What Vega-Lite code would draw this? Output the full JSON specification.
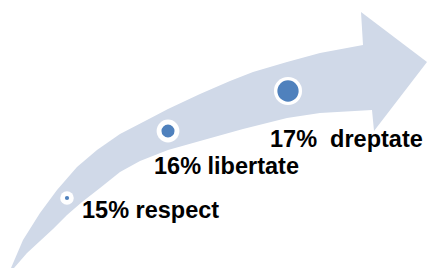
{
  "$schema": "https://vega.github.io/schema/vega-lite/v6.json",
  "width": 427,
  "height": 269,
  "autosize": {"type": "fit", "contains": "padding"},
  "padding": 0,
  "background": "white",
  "config": {"view": {"stroke": null}},
  "resolve": {"scale": {"size": "independent"}},
  "datasets": {
    "arrow": [
      {"i": 1, "x": 11, "y": 268},
      {"i": 2, "x": 23, "y": 240},
      {"i": 3, "x": 40, "y": 213},
      {"i": 4, "x": 57, "y": 190},
      {"i": 5, "x": 77, "y": 167},
      {"i": 6, "x": 97, "y": 150},
      {"i": 7, "x": 120, "y": 134},
      {"i": 8, "x": 147, "y": 120},
      {"i": 9, "x": 168, "y": 109},
      {"i": 10, "x": 200, "y": 94},
      {"i": 11, "x": 230, "y": 81},
      {"i": 12, "x": 253, "y": 72},
      {"i": 13, "x": 287, "y": 62},
      {"i": 14, "x": 320, "y": 53},
      {"i": 15, "x": 363, "y": 45},
      {"i": 16, "x": 361, "y": 12},
      {"i": 17, "x": 427, "y": 62},
      {"i": 18, "x": 374, "y": 131},
      {"i": 19, "x": 372, "y": 110},
      {"i": 20, "x": 320, "y": 113},
      {"i": 21, "x": 287, "y": 118},
      {"i": 22, "x": 243, "y": 129},
      {"i": 23, "x": 200, "y": 141},
      {"i": 24, "x": 168, "y": 150},
      {"i": 25, "x": 140, "y": 161},
      {"i": 26, "x": 120, "y": 172},
      {"i": 27, "x": 100, "y": 188},
      {"i": 28, "x": 82, "y": 202},
      {"i": 29, "x": 67, "y": 215},
      {"i": 30, "x": 53, "y": 229},
      {"i": 31, "x": 40, "y": 241},
      {"i": 32, "x": 27, "y": 253},
      {"i": 33, "x": 14, "y": 268}
    ],
    "steps": [
      {"pct": 15, "x": 67, "y": 198, "label": "15% respect", "lx": 82, "ly": 218},
      {"pct": 16, "x": 168, "y": 131, "label": "16% libertate", "lx": 154, "ly": 174},
      {"pct": 17, "x": 288, "y": 91, "label": "17% \u00a0dreptate", "lx": 270, "ly": 147}
    ]
  },
  "layer": [
    {
      "data": {"name": "arrow"},
      "mark": {"type": "line", "fill": "#d0d9e8", "stroke": null, "strokeWidth": 0},
      "encoding": {
        "x": {"field": "x", "type": "quantitative", "scale": {"domain": [0, 427], "nice": false, "zero": false}, "axis": null},
        "y": {"field": "y", "type": "quantitative", "scale": {"domain": [269, 0], "nice": false, "zero": false}, "axis": null},
        "order": {"field": "i", "type": "quantitative"}
      }
    },
    {
      "data": {"name": "steps"},
      "mark": {"type": "point", "shape": "circle", "filled": true, "color": "white", "opacity": 1},
      "encoding": {
        "x": {"field": "x", "type": "quantitative"},
        "y": {"field": "y", "type": "quantitative"},
        "size": {"field": "pct", "type": "ordinal", "scale": {"type": "ordinal", "domain": [15, 16, 17], "range": [184, 519, 789]}, "legend": null}
      }
    },
    {
      "data": {"name": "steps"},
      "mark": {"type": "point", "shape": "circle", "filled": true, "color": "#4f81bd", "opacity": 1},
      "encoding": {
        "x": {"field": "x", "type": "quantitative"},
        "y": {"field": "y", "type": "quantitative"},
        "size": {"field": "pct", "type": "ordinal", "scale": {"type": "ordinal", "domain": [15, 16, 17], "range": [18, 170, 452]}, "legend": null}
      }
    },
    {
      "data": {"name": "steps"},
      "mark": {"type": "text", "align": "left", "baseline": "alphabetic", "font": "Liberation Sans", "fontWeight": "bold", "fontSize": 23.5, "color": "#000000"},
      "encoding": {
        "x": {"field": "lx", "type": "quantitative"},
        "y": {"field": "ly", "type": "quantitative"},
        "text": {"field": "label", "type": "nominal"}
      }
    }
  ]
}
